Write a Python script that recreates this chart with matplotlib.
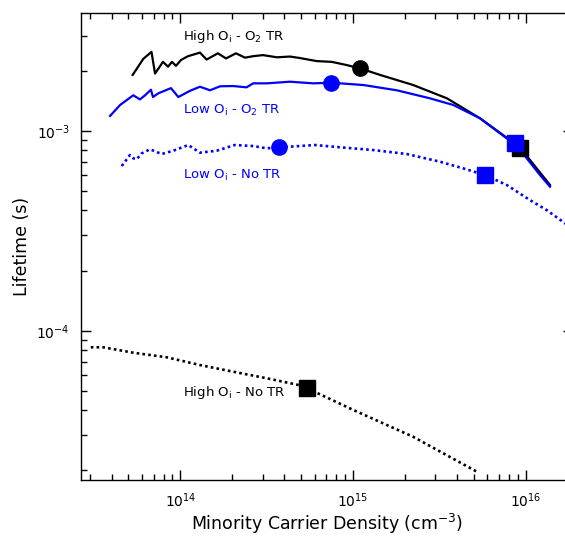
import matplotlib
matplotlib.use("Agg")
import matplotlib.pyplot as plt
from matplotlib.ticker import LogLocator, NullFormatter

plt.rcParams['font.family'] = ['DejaVu Sans']
plt.rcParams['mathtext.default'] = 'regular'

# ---- data ----
high_tr_x = [5.30e13, 6.11e13, 6.81e13, 7.14e13, 7.94e13, 8.49e13, 8.95e13, 9.44e13, 1.01e14,
             1.108e14, 1.30e14, 1.42e14, 1.65e14, 1.84e14, 2.10e14, 2.37e14, 2.64e14, 3.01e14,
             3.63e14, 4.32e14, 4.93e14, 6.16e14, 7.53e14, 9.19e14, 1.098e15, 1.433e15, 2.23e15,
             3.50e15, 5.44e15, 8.11e15, 9.27e15, 1.059e16, 1.383e16]
high_tr_y = [1.91e-3, 2.30e-3, 2.49e-3, 1.94e-3, 2.22e-3, 2.10e-3, 2.22e-3, 2.12e-3, 2.27e-3,
             2.37e-3, 2.47e-3, 2.28e-3, 2.45e-3, 2.31e-3, 2.45e-3, 2.33e-3, 2.37e-3, 2.40e-3,
             2.34e-3, 2.36e-3, 2.32e-3, 2.24e-3, 2.22e-3, 2.14e-3, 2.06e-3, 1.91e-3, 1.70e-3,
             1.458e-3, 1.158e-3, 0.901e-3, 0.822e-3, 0.716e-3, 0.537e-3]

low_tr_x = [3.92e13, 4.48e13, 5.34e13, 5.84e13, 6.25e13, 6.76e13, 6.95e13, 7.46e13, 8.83e13,
            9.74e13, 1.138e14, 1.30e14, 1.486e14, 1.70e14, 2.02e14, 2.42e14, 2.64e14, 3.16e14,
            4.32e14, 5.89e14, 7.53e14, 1.147e15, 1.79e15, 2.79e15, 3.81e15, 5.44e15, 7.76e15,
            8.67e15, 1.014e16, 1.21e16, 1.383e16]
low_tr_y = [1.19e-3, 1.35e-3, 1.51e-3, 1.44e-3, 1.51e-3, 1.61e-3, 1.48e-3, 1.545e-3, 1.64e-3,
            1.48e-3, 1.59e-3, 1.667e-3, 1.60e-3, 1.675e-3, 1.68e-3, 1.655e-3, 1.733e-3, 1.733e-3,
            1.766e-3, 1.733e-3, 1.745e-3, 1.70e-3, 1.60e-3, 1.458e-3, 1.35e-3, 1.158e-3, 0.919e-3,
            0.874e-3, 0.730e-3, 0.602e-3, 0.526e-3]

low_notr_x = [4.58e13, 5.11e13, 5.34e13, 5.59e13, 5.98e13, 6.68e13, 7.80e13, 9.11e13, 1.112e14,
              1.30e14, 1.625e14, 2.07e14, 2.65e14, 3.16e14, 3.69e14, 4.32e14, 6.03e14, 8.41e14,
              1.311e15, 2.05e15, 3.19e15, 4.35e15, 5.81e15, 7.76e15, 1.059e16, 1.323e16,
              1.689e16, 1.879e16]
low_notr_y = [0.668e-3, 0.758e-3, 0.730e-3, 0.722e-3, 0.773e-3, 0.810e-3, 0.767e-3, 0.797e-3,
              0.851e-3, 0.779e-3, 0.797e-3, 0.851e-3, 0.841e-3, 0.819e-3, 0.829e-3, 0.835e-3,
              0.851e-3, 0.829e-3, 0.803e-3, 0.767e-3, 0.702e-3, 0.650e-3, 0.602e-3, 0.537e-3,
              0.451e-3, 0.402e-3, 0.345e-3, 0.327e-3]

high_notr_x = [3.03e13, 3.58e13, 5.34e13, 8.34e13, 1.30e14, 2.03e14, 3.16e14, 4.82e14, 5.42e14,
               6.16e14, 1.004e15, 2.235e15, 5.20e15]
high_notr_y = [8.26e-5, 8.26e-5, 7.76e-5, 7.36e-5, 6.73e-5, 6.23e-5, 5.78e-5, 5.35e-5, 5.16e-5,
               4.89e-5, 4.01e-5, 2.94e-5, 1.97e-5]

# highlighted points
circ_black = (1.098e15, 2.06e-3)
circ_blue_tr = (7.45e14, 1.745e-3)
circ_blue_notr = (3.71e14, 0.827e-3)
sq_black_tr = (9.27e15, 0.822e-3)
sq_blue_tr = (8.67e15, 0.872e-3)
sq_blue_notr = (5.79e15, 0.604e-3)
sq_black_notr = (5.42e14, 5.16e-5)

labels = ["High O$_\\mathrm{i}$ - O$_2$ TR", "Low O$_\\mathrm{i}$ - O$_2$ TR",
          "Low O$_\\mathrm{i}$ - No TR", "High O$_\\mathrm{i}$ - No TR"]

BLUE = '#0000ff'

fig = plt.figure(figsize=(5.65, 5.45), dpi=100)
ax = fig.add_axes([81/565, 65/545, 492/565, 467/545])
ax.set_xscale('log')
ax.set_yscale('log')
ax.set_xlim(10**13.425, 10**16.274)
ax.set_ylim(1.788e-5, 3.90e-3)

ax.plot(high_tr_x, high_tr_y, color='black', lw=1.6, solid_joinstyle='round', zorder=3)
ax.plot(low_tr_x, low_tr_y, color=BLUE, lw=1.6, solid_joinstyle='round', zorder=3)
ax.plot(low_notr_x, low_notr_y, color=BLUE, lw=1.9, linestyle=(0, (1, 1.2)),
        dash_capstyle='butt', zorder=3, clip_on=True)
ax.plot(high_notr_x, high_notr_y, color='black', lw=1.9, linestyle=(0, (1, 1.2)),
        dash_capstyle='butt', zorder=3)

ms = 11
ax.plot(*circ_black, marker='o', ms=ms, color='black', zorder=5)
ax.plot(*circ_blue_tr, marker='o', ms=ms, color=BLUE, zorder=5)
ax.plot(*circ_blue_notr, marker='o', ms=ms, color=BLUE, zorder=5)
ax.plot(*sq_black_tr, marker='s', ms=ms, color='black', zorder=5)
ax.plot(*sq_blue_tr, marker='s', ms=ms, color=BLUE, zorder=6)
ax.plot(*sq_blue_notr, marker='s', ms=ms, color=BLUE, zorder=5)
ax.plot(*sq_black_notr, marker='s', ms=ms, color='black', zorder=5)

fs = 9.5
ax.text(1.03e14, 2.99e-3, labels[0], color='black', fontsize=fs, ha='left', va='center')
ax.text(1.03e14, 1.274e-3, labels[1], color=BLUE, fontsize=fs, ha='left', va='center')
ax.text(1.03e14, 0.602e-3, labels[2], color=BLUE, fontsize=fs, ha='left', va='center')
ax.text(1.03e14, 4.88e-5, labels[3], color='black', fontsize=fs, ha='left', va='center')

ax.xaxis.set_major_locator(LogLocator(base=10, numticks=10))
ax.xaxis.set_minor_locator(LogLocator(base=10, subs=range(2, 10), numticks=20))
ax.xaxis.set_minor_formatter(NullFormatter())
ax.yaxis.set_major_locator(LogLocator(base=10, numticks=10))
ax.yaxis.set_minor_locator(LogLocator(base=10, subs=range(2, 10), numticks=20))
ax.yaxis.set_minor_formatter(NullFormatter())

ax.tick_params(which='both', direction='in', top=True, right=True, width=1.0, labelsize=10)
ax.tick_params(which='major', length=7.2, pad=8)
ax.tick_params(which='minor', length=4.2)
for s in ax.spines.values():
    s.set_linewidth(1.0)

ax.set_xlabel("Minority Carrier Density (cm$^{-3}$)", fontsize=12.5)
ax.set_ylabel("Lifetime (s)", fontsize=12.5)
ax.xaxis.set_label_coords(0.5, -0.068)
ax.yaxis.set_label_coords(-0.1016, 0.5)

fig.savefig("out.png", dpi=100)
